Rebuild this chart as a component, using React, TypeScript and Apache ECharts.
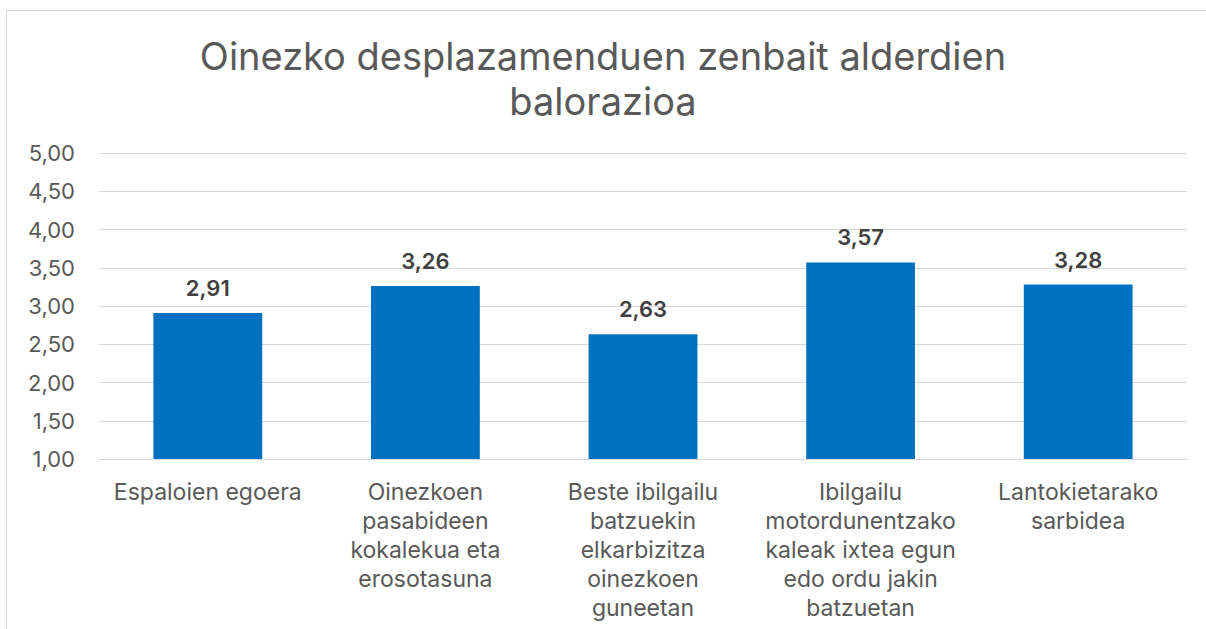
import React, { useEffect, useRef } from "react";
import * as echarts from "echarts";

const titleText = "Oinezko desplazamenduen zenbait alderdien\nbalorazioa";
const categories = [
  "Espaloien egoera",
  "Oinezkoen\npasabideen\nkokalekua eta\nerosotasuna",
  "Beste ibilgailu\nbatzuekin\nelkarbizitza\noinezkoen\nguneetan",
  "Ibilgailu\nmotordunentzako\nkaleak ixtea egun\nedo ordu jakin\nbatzuetan",
  "Lantokietarako\nsarbidea",
];
const values = [2.91, 3.26, 2.63, 3.57, 3.28];
const yMin = 1;
const yMax = 5;
const yInterval = 0.5;

const fmt = (v: number) => v.toFixed(2).replace(".", ",");

export default function App() {
  const ref = useRef<HTMLDivElement>(null);
  useEffect(() => {
    if (!ref.current) return;
    const chart = echarts.init(ref.current, null, { renderer: "svg" });
    const font = "Inter, 'Noto Sans', sans-serif";
    chart.setOption({
      animation: false,
      textStyle: { fontFamily: font },
      title: {
        text: titleText,
        left: "center",
        top: 28,
        textStyle: {
          fontFamily: font,
          fontSize: 38,
          fontWeight: "normal",
          color: "#595959",
          lineHeight: 45,
        },
      },
      graphic: [
        {
          type: "rect",
          shape: { x: 6.5, y: 10.5, width: 1300, height: 700 },
          style: { fill: "none", stroke: "#d9d9d9", lineWidth: 1 },
          silent: true,
        },
      ],
      grid: { left: 99, right: 19, top: 153, bottom: 170, containLabel: false },
      xAxis: {
        type: "category",
        data: categories,
        axisLine: { lineStyle: { color: "#d9d9d9", width: 1 } },
        axisTick: { show: false },
        axisLabel: {
          interval: 0,
          color: "#595959",
          fontSize: 23,
          lineHeight: 29,
          margin: 18,
          fontFamily: font,
        },
      },
      yAxis: {
        type: "value",
        min: yMin,
        max: yMax,
        interval: yInterval,
        axisLine: { show: false },
        axisTick: { show: false },
        splitLine: { lineStyle: { color: "#d9d9d9", width: 1 } },
        axisLabel: {
          color: "#595959",
          fontSize: 22,
          margin: 24,
          fontFamily: font,
          formatter: (v: number) => fmt(v),
        },
      },
      series: [
        {
          type: "bar",
          data: values,
          barWidth: "50%",
          itemStyle: { color: "#0070C0" },
          label: {
            show: true,
            position: "top",
            distance: 14,
            color: "#404040",
            fontSize: 22,
            fontWeight: 600,
            fontFamily: font,
            formatter: (p: any) => fmt(p.value),
          },
        },
      ],
    });
    return () => chart.dispose();
  }, []);
  return (
    <div
      ref={ref}
      style={{ position: "absolute", left: 0, top: 0, width: 1206, height: 629 }}
    />
  );
}
